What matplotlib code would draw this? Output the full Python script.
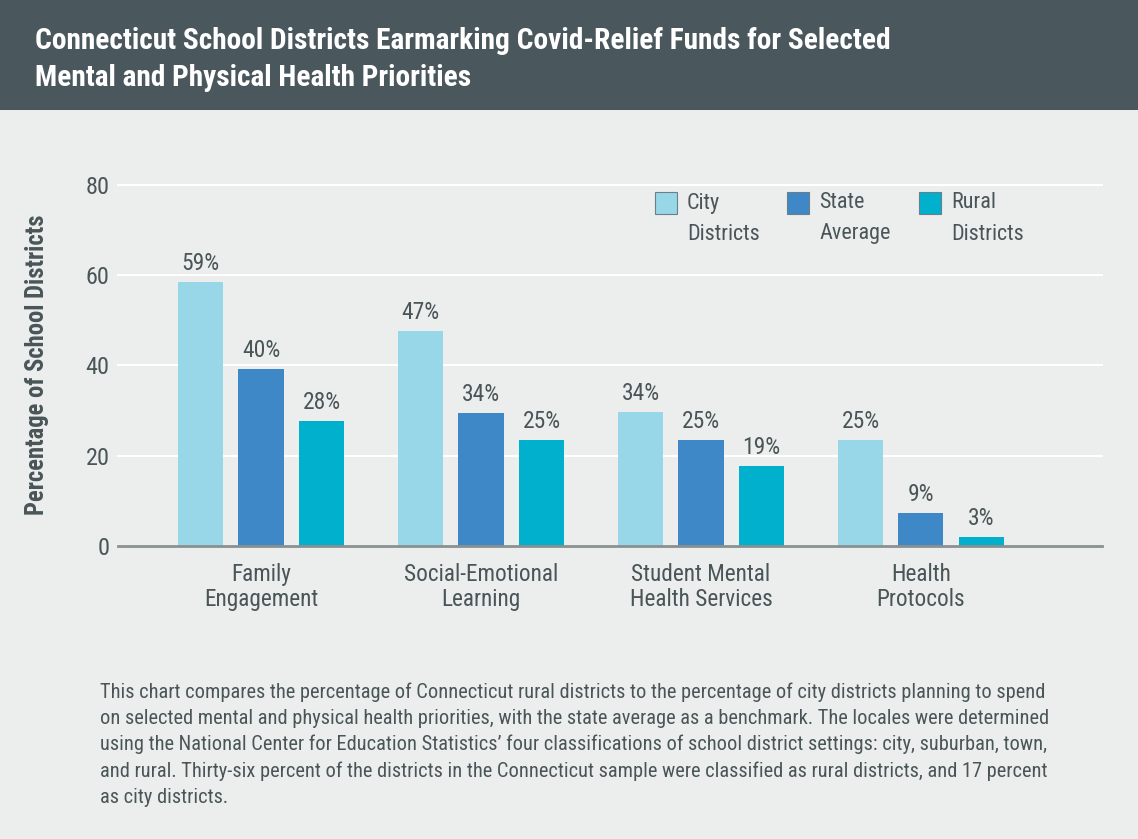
import matplotlib
matplotlib.use("Agg")
from matplotlib import pyplot as plt
from matplotlib import font_manager
from matplotlib.patches import Rectangle
import numpy as np

categories = ["Family\nEngagement", "Social-Emotional\nLearning",
              "Student Mental\nHealth Services", "Health\nProtocols"]
series_names = ["City\nDistricts", "State\nAverage", "Rural\nDistricts"]
city_values = [58.5, 47.7, 29.6, 23.4]
state_values = [39.3, 29.4, 23.6, 7.4]
rural_values = [27.8, 23.4, 17.8, 1.9]
city_labels = ["59%", "47%", "34%", "25%"]
state_labels = ["40%", "34%", "25%", "9%"]
rural_labels = ["28%", "25%", "19%", "3%"]
y_ticks = [0, 20, 40, 60, 80]

title_lines = ["Connecticut School Districts Earmarking Covid-Relief Funds for Selected",
               "Mental and Physical Health Priorities"]
note_lines = [
    "This chart compares the percentage of Connecticut rural districts to the percentage of city districts planning to spend",
    "on selected mental and physical health priorities, with the state average as a benchmark. The locales were determined",
    "using the National Center for Education Statistics\u2019 four classifications of school district settings: city, suburban, town,",
    "and rural. Thirty-six percent of the districts in the Connecticut sample were classified as rural districts, and 17 percent",
    "as city districts.",
]

colors = ["#97d7e8", "#3f88c8", "#00b0cc"]
bg = "#eceeed"
header_color = "#4a585d"
text_color = "#4a5558"

W, H = 1138, 839

names = {f.name for f in font_manager.fontManager.ttflist}
font = "DejaVu Sans"
for cand in ["Roboto Condensed", "Open Sans Condensed", "Liberation Sans Narrow",
             "Noto Sans Condensed", "DejaVu Sans Condensed", "Lato", "Roboto"]:
    if cand in names:
        font = cand
        break
plt.rcParams["font.family"] = [font, "DejaVu Sans"]

fig = plt.figure(figsize=(W / 100, H / 100), dpi=100, facecolor=bg)
renderer = fig.canvas.get_renderer()


def fit_size(text, target_px, weight="normal"):
    t = fig.text(0, 0, text, fontsize=20, fontweight=weight)
    w = t.get_window_extent(renderer).width
    t.remove()
    return 20 * target_px / w


def fx(px):
    return px / W


def fy(py):
    return 1 - py / H


# header band
fig.patches.append(Rectangle((0, fy(110)), 1, 110 / H, transform=fig.transFigure,
                             facecolor=header_color, edgecolor="none", zorder=0))
title_size = fit_size(title_lines[0], 853, "bold")
for k, line in enumerate(title_lines):
    fig.text(fx(35), fy(41 + 37 * k), line, color="white", fontsize=title_size,
             fontweight="bold", va="center", ha="left")

ax = fig.add_axes([fx(118), fy(546), 984 / W, 361 / H])
ax.set_facecolor(bg)
x = np.arange(len(categories))
width = 0.205
offset = 0.275
value_size = fit_size("59%", 38)
all_values = [city_values, state_values, rural_values]
all_labels = [city_labels, state_labels, rural_labels]
for i, (vals, labs) in enumerate(zip(all_values, all_labels)):
    bars = ax.bar(x + (i - 1) * offset, vals, width, color=colors[i], zorder=3)
    for b, lab in zip(bars, labs):
        ax.annotate(lab, (b.get_x() + b.get_width() / 2, b.get_height()),
                    xytext=(0, 5), textcoords="offset points", ha="center", va="bottom",
                    fontsize=value_size, color=text_color)

ax.set_xlim(-0.65, 3.823)
ax.set_ylim(0, 80)
ax.set_yticks(y_ticks)
ax.set_yticklabels([str(t) for t in y_ticks])
ax.grid(axis="y", color="white", linewidth=1.5, zorder=0)
for g in ax.get_ygridlines():
    g.set_clip_on(False)
ax.set_axisbelow(True)
for s in ["top", "right", "left"]:
    ax.spines[s].set_visible(False)
ax.spines["bottom"].set_color("#8a9090")
ax.spines["bottom"].set_linewidth(2)
ax.spines["bottom"].set_zorder(4)
cat_size = fit_size("Social-Emotional", 154)
ax.tick_params(axis="y", length=0, pad=6, labelsize=fit_size("80", 24), labelcolor=text_color)
ax.tick_params(axis="x", length=0, pad=12, labelsize=cat_size, labelcolor=text_color)
ax.set_xticks(x)
ax.set_xticklabels(categories, linespacing=1.15, va="top")

fig.text(fx(37), fy(365), "Percentage of School Districts", rotation=90,
         fontsize=fit_size("Percentage of School Districts", 300, "bold"),
         fontweight="bold", color=text_color, ha="center", va="center")

# legend
leg_size = fit_size("Districts", 73)
for i, name in enumerate(series_names):
    x0 = 655 + 132 * i
    fig.patches.append(Rectangle((fx(x0), fy(214)), 22 / W, 22 / H, transform=fig.transFigure,
                                 facecolor=colors[i], edgecolor="#6a8088", linewidth=0.8))
    first, second = name.split("\n")
    fig.text(fx(x0 + 32), fy(203), first, fontsize=leg_size, color=text_color,
             ha="left", va="center")
    fig.text(fx(x0 + 32), fy(234), second, fontsize=leg_size, color=text_color,
             ha="left", va="center")

note_size = fit_size(note_lines[1], 947)
for k, line in enumerate(note_lines):
    fig.text(fx(100), fy(692 + 26.3 * k), line, fontsize=note_size, color=text_color,
             va="center", ha="left")

fig.savefig("out.png", dpi=100, facecolor=bg)
